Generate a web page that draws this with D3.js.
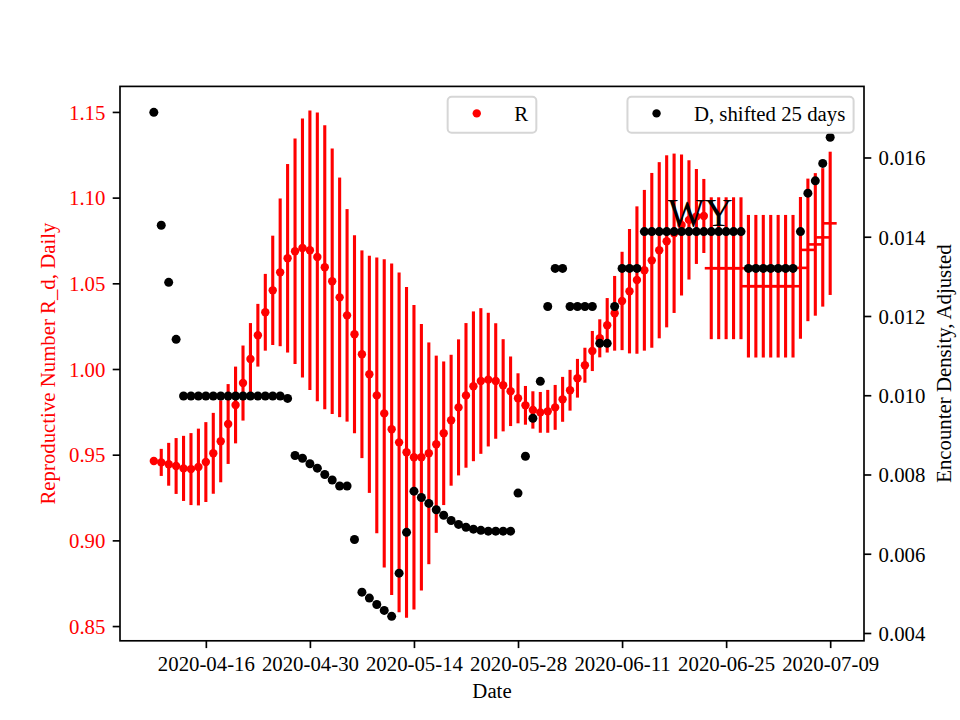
<!DOCTYPE html>
<html>
<head>
<meta charset="utf-8">
<script src="https://cdn.jsdelivr.net/npm/d3@7"></script>
<style>
  body { margin: 0; background: #fff; }
  text { font-family: "Liberation Serif", "Times New Roman", serif; }
</style>
</head>
<body>
<div id="chart"></div>
<script>
// data, one value per day starting 2020-04-09
const startDay = "2020-04-09";
const xTickLabels = ["2020-04-16", "2020-04-30", "2020-05-14", "2020-05-28", "2020-06-11", "2020-06-25", "2020-07-09"];
const rTicks = [0.85, 0.90, 0.95, 1.00, 1.05, 1.10, 1.15];
const dTicks = [0.004, 0.006, 0.008, 0.010, 0.012, 0.014, 0.016];

const rValues = [
  0.9463, 0.9455, 0.9444, 0.9434, 0.9420, 0.9416, 0.9428, 0.9457, 0.9508, 0.9578,
  0.9679, 0.9790, 0.9918, 1.0058, 1.0197, 1.0331, 1.0459, 1.0564, 1.0646, 1.0687,
  1.0706, 1.0693, 1.0654, 1.0594, 1.0512, 1.0418, 1.0313, 1.0203, 1.0086, 0.9969,
  0.9846, 0.9741, 0.9648, 0.9572, 0.9514, 0.9485, 0.9485, 0.9508, 0.9561, 0.9625,
  0.9701, 0.9776, 0.9846, 0.9899, 0.9930, 0.9938, 0.9930, 0.9905, 0.9870, 0.9829,
  0.9788, 0.9761, 0.9747, 0.9753, 0.9776, 0.9823, 0.9876, 0.9946, 1.0022, 1.0105,
  1.0179, 1.0255, 1.0325, 1.0397, 1.0454, 1.0519, 1.0576, 1.0634, 1.0693, 1.0745,
  1.0792, 1.0840, 1.0870, 1.0890, 1.0893, 1.0588, 1.0588, 1.0588, 1.0588, 1.0588,
  1.0483, 1.0483, 1.0483, 1.0483, 1.0483, 1.0483, 1.0483, 1.0590, 1.0695, 1.0727,
  1.0768, 1.0850
];
const rErrors = [
  0.0015, 0.0079, 0.0125, 0.0163, 0.0190, 0.0210, 0.0224, 0.0233, 0.0236, 0.0239,
  0.0233, 0.0224, 0.0219, 0.0210, 0.0183, 0.0224, 0.0319, 0.0431, 0.0550, 0.0658,
  0.0755, 0.0816, 0.0842, 0.0829, 0.0774, 0.0699, 0.0620, 0.0578, 0.0606, 0.0692,
  0.0804, 0.0899, 0.0967, 0.0991, 0.0965, 0.0889, 0.0778, 0.0647, 0.0517, 0.0419,
  0.0382, 0.0397, 0.0422, 0.0437, 0.0425, 0.0390, 0.0337, 0.0269, 0.0203, 0.0146,
  0.0113, 0.0109, 0.0119, 0.0125, 0.0131, 0.0131, 0.0119, 0.0113, 0.0102, 0.0117,
  0.0111, 0.0159, 0.0218, 0.0287, 0.0363, 0.0430, 0.0469, 0.0510, 0.0514, 0.0502,
  0.0465, 0.0411, 0.0348, 0.0277, 0.0216, 0.0414, 0.0414, 0.0414, 0.0414, 0.0414,
  0.0416, 0.0416, 0.0416, 0.0416, 0.0416, 0.0416, 0.0416, 0.0414, 0.0416, 0.0416,
  0.0404, 0.0418
];
// from this day on the R estimate is drawn as a short horizontal dash
const rDashFrom = "2020-06-23";

const dValues = [
  0.01714, 0.01429, 0.01285, 0.01141, 0.00998, 0.00998, 0.00998, 0.00998, 0.00998, 0.00998,
  0.00998, 0.00998, 0.00998, 0.00998, 0.00998, 0.00998, 0.00998, 0.00998, 0.00992, 0.00848,
  0.00841, 0.00827, 0.00816, 0.00800, 0.00786, 0.00771, 0.00771, 0.00636, 0.00503, 0.00488,
  0.00472, 0.00457, 0.00442, 0.00551, 0.00654, 0.00758, 0.00742, 0.00727, 0.00711, 0.00697,
  0.00684, 0.00674, 0.00667, 0.00662, 0.00659, 0.00657, 0.00657, 0.00657, 0.00657, 0.00753,
  0.00846, 0.00942, 0.01035, 0.01224, 0.01320, 0.01320, 0.01224, 0.01224, 0.01224, 0.01224,
  0.01131, 0.01131, 0.01224, 0.01320, 0.01320, 0.01320, 0.01413, 0.01413, 0.01413, 0.01413,
  0.01413, 0.01413, 0.01413, 0.01413, 0.01413, 0.01413, 0.01413, 0.01413, 0.01413, 0.01413,
  0.01320, 0.01320, 0.01320, 0.01320, 0.01320, 0.01320, 0.01320, 0.01413, 0.01510, 0.01541,
  0.01585, 0.01651
];

const stateName = "WY";
const rLegendLabel = "R";
const dLegendLabel = "D, shifted 25 days";

// layout
const width = 960, height = 720;
const plot = {left: 120, right: 864, top: 86.4, bottom: 640.8};
const fontSize = 20.8;
const tickLen = 7.3;
const red = "#ff0000";

const parse = d3.utcParse("%Y-%m-%d");
const day0 = parse(startDay);
const days = rValues.map((d, i) => d3.utcDay.offset(day0, i));
const dayMs = 864e5;
const pad = (days.length - 1) * 0.05 * dayMs;

const x = d3.scaleUtc()
  .domain([new Date(+days[0] - pad), new Date(+days[days.length - 1] + pad)])
  .range([plot.left, plot.right]);
const yR = d3.scaleLinear().domain([0.8414, 1.1649]).range([plot.bottom, plot.top]);
const yD = d3.scaleLinear().domain([0.003803, 0.017794]).range([plot.bottom, plot.top]);

const rows = days.map((day, i) => ({day: day, r: rValues[i], err: rErrors[i], d: dValues[i]}));
const dashStart = parse(rDashFrom);

const svg = d3.select("#chart").append("svg")
  .attr("width", width)
  .attr("height", height);
svg.append("rect").attr("width", width).attr("height", height).attr("fill", "#fff");

// ---- first axes: R ----
const ax1 = svg.append("g");

ax1.selectAll(".errbar")
  .data(rows)
  .enter().append("line")
  .attr("class", "errbar")
  .attr("x1", d => x(d.day)).attr("x2", d => x(d.day))
  .attr("y1", d => yR(d.r - d.err)).attr("y2", d => yR(d.r + d.err))
  .attr("stroke", red)
  .attr("stroke-width", 3.1);

ax1.selectAll(".rdot")
  .data(rows.filter(d => d.day < dashStart))
  .enter().append("circle")
  .attr("class", "rdot")
  .attr("cx", d => x(d.day))
  .attr("cy", d => yR(d.r))
  .attr("r", 4.2)
  .attr("fill", red);

ax1.selectAll(".rdash")
  .data(rows.filter(d => d.day >= dashStart))
  .enter().append("line")
  .attr("class", "rdash")
  .attr("x1", d => x(d.day) - 6.5).attr("x2", d => x(d.day) + 6.5)
  .attr("y1", d => yR(d.r)).attr("y2", d => yR(d.r))
  .attr("stroke", red)
  .attr("stroke-width", 2.6);

function legend(g, right, label, color) {
  // matplotlib style legend box, right edge given
  let tmp = g.append("text").attr("font-size", fontSize).text(label);
  let tw = tmp.node().getComputedTextLength();
  tmp.remove();
  let w = 8.3 + 41.6 + 16.6 + tw + 8.3;
  let left = right - w;
  let top = plot.top + 10.4;
  let h = 36;
  let lg = g.append("g");
  lg.append("rect")
    .attr("x", left).attr("y", top)
    .attr("width", w).attr("height", h)
    .attr("rx", 4).attr("ry", 4)
    .attr("fill", "rgba(255,255,255,0.8)")
    .attr("stroke", "#d6d6d6")
    .attr("stroke-width", 2);
  lg.append("circle")
    .attr("cx", left + 8.3 + 20.8)
    .attr("cy", top + 16.6)
    .attr("r", 4.2)
    .attr("fill", color);
  lg.append("text")
    .attr("x", left + 8.3 + 41.6 + 16.6)
    .attr("y", top + 24.3)
    .attr("font-size", fontSize)
    .attr("fill", "#000")
    .text(label);
  return lg;
}

// R legend, upper center
{
  let tmp = ax1.append("text").attr("font-size", fontSize).text(rLegendLabel);
  let tw = tmp.node().getComputedTextLength();
  tmp.remove();
  let w = 8.3 + 41.6 + 16.6 + tw + 8.3;
  legend(ax1, (plot.left + plot.right) / 2 + w / 2, rLegendLabel, red);
}

// ---- second axes: D ----
const ax2 = svg.append("g");

ax2.selectAll(".ddot")
  .data(rows)
  .enter().append("circle")
  .attr("class", "ddot")
  .attr("cx", d => x(d.day))
  .attr("cy", d => yD(d.d))
  .attr("r", 4.5)
  .attr("fill", "#000");

ax2.append("text")
  .attr("x", x(parse("2020-06-17")) + 1)
  .attr("y", yR(1.0836))
  .attr("font-size", 39)
  .attr("fill", "#000")
  .text(stateName);

legend(ax2, plot.right - 10.4, dLegendLabel, "#000");

// ---- axes, ticks, labels ----
const xAxis = d3.axisBottom(x)
  .tickValues(xTickLabels.map(parse))
  .tickFormat(d3.utcFormat("%Y-%m-%d"))
  .tickSize(tickLen)
  .tickPadding(7.3);
const gx = svg.append("g")
  .attr("transform", "translate(0," + plot.bottom + ")")
  .call(xAxis);

const leftAxis = d3.axisLeft(yR)
  .tickValues(rTicks)
  .tickFormat(d3.format(".2f"))
  .tickSize(tickLen)
  .tickPadding(7.3);
const gl = svg.append("g")
  .attr("transform", "translate(" + plot.left + ",0)")
  .call(leftAxis);

const rightAxis = d3.axisRight(yD)
  .tickValues(dTicks)
  .tickFormat(d3.format(".3f"))
  .tickSize(tickLen)
  .tickPadding(7.3);
const gr = svg.append("g")
  .attr("transform", "translate(" + plot.right + ",0)")
  .call(rightAxis);

[gx, gl, gr].forEach(g => {
  g.select(".domain").remove();
  g.selectAll(".tick line").attr("stroke", "#000").attr("stroke-width", 1.67);
  g.selectAll(".tick text")
    .attr("font-size", fontSize)
    .attr("font-family", "'Liberation Serif', 'Times New Roman', serif")
    .attr("fill", "#000");
});
gx.selectAll(".tick text").attr("dy", "0.75em");
gl.selectAll(".tick text").attr("fill", red).attr("dy", "0.35em");
gr.selectAll(".tick text").attr("dy", "0.35em");

// frame
svg.append("rect")
  .attr("x", plot.left).attr("y", plot.top)
  .attr("width", plot.right - plot.left)
  .attr("height", plot.bottom - plot.top)
  .attr("fill", "none")
  .attr("stroke", "#000")
  .attr("stroke-width", 1.67);

svg.append("text")
  .attr("x", (plot.left + plot.right) / 2)
  .attr("y", 698)
  .attr("text-anchor", "middle")
  .attr("font-size", fontSize)
  .text("Date");

svg.append("text")
  .attr("transform", "translate(55," + ((plot.top + plot.bottom) / 2) + ") rotate(-90)")
  .attr("text-anchor", "middle")
  .attr("font-size", fontSize)
  .attr("fill", red)
  .text("Reproductive Number R_d, Daily");

svg.append("text")
  .attr("transform", "translate(951," + ((plot.top + plot.bottom) / 2) + ") rotate(-90)")
  .attr("text-anchor", "middle")
  .attr("font-size", fontSize)
  .attr("fill", "#000")
  .text("Encounter Density, Adjusted");
</script>
</body>
</html>
